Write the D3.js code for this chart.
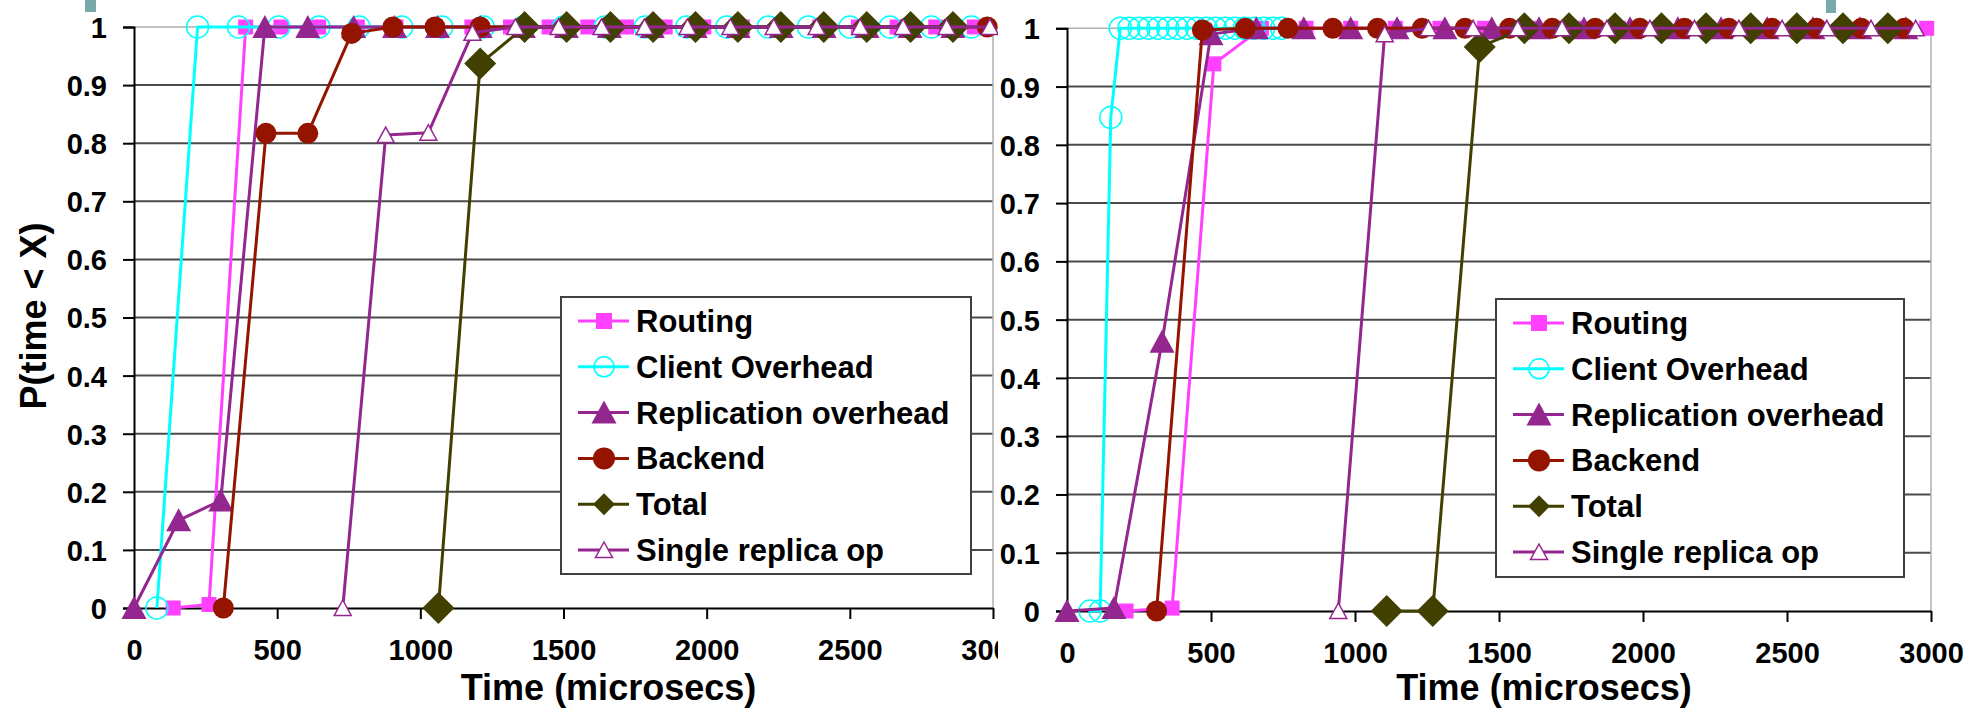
<!DOCTYPE html>
<html>
<head>
<meta charset="utf-8">
<script src="https://cdn.jsdelivr.net/npm/d3@7"></script>
<style>
  body { margin: 0; background: #fff; }
  svg { display: block; }
  text { font-family: "Liberation Sans", Arial, sans-serif; font-weight: bold; fill: #000; }
</style>
</head>
<body>
<svg id="svg1" width="1968" height="710"></svg>
<script>
// series names, in drawing order
var seriesNames = ["Routing", "Client Overhead", "Replication overhead", "Backend", "Total", "Single replica op"];
var xTicks = [0, 500, 1000, 1500, 2000, 2500, 3000];
var yTicks = [0, 0.1, 0.2, 0.3, 0.4, 0.5, 0.6, 0.7, 0.8, 0.9, 1];
var xTitle = "Time (microsecs)";
var yTitle = "P(time < X)";

// left chart, [time, probability]
var leftRouting = [[137,0],[262,0.006],[390,1],[513,1],[645,1],[780,1],[915,1],[1050,1],[1180,1],[1315,1],[1450,1],[1585,1],[1720,1],[1855,1],[1990,1],[2125,1],[2260,1],[2395,1],[2530,1],[2665,1],[2800,1],[2935,1]];
var leftClient = [[80,0],[222,1],[365,1],[505,1],[646,1],[786,1],[935,1],[1075,1],[1220,1],[1360,1],[1500,1],[1645,1],[1785,1],[1930,1],[2070,1],[2215,1],[2355,1],[2500,1],[2640,1],[2785,1],[2925,1]];
var leftReplication = [[0,0],[156,0.151],[303,0.185],[457,1],[607,1],[767,1],[910,1],[1060,1],[1209,1],[1360,1],[1510,1],[1660,1],[1810,1],[1960,1],[2110,1],[2260,1],[2410,1],[2560,1],[2710,1],[2860,1]];
var leftBackend = [[312,0],[461,0.817],[607,0.817],[760,0.989],[904,1],[1051,1],[1209,1],[1357,1],[1505,1],[1655,1],[1805,1],[1955,1],[2105,1],[2255,1],[2405,1],[2555,1],[2705,1],[2855,1],[2980,1]];
var leftTotal = [[1063,0],[1209,0.937],[1364,1],[1511,1],[1664,1],[1813,1],[1961,1],[2109,1],[2259,1],[2409,1],[2559,1],[2712,1],[2860,1]];
var leftSingle = [[729,0],[879,0.814],[1028,0.818],[1182,0.99],[1332,1],[1483,1],[1633,1],[1783,1],[1933,1],[2083,1],[2234,1],[2384,1],[2536,1],[2686,1],[2838,1],[2989,1]];

// right chart
var rightRouting = [[205,0],[365,0.005],[510,0.939],[675,1],[830,1],[985,1],[1140,1],[1295,1],[1450,1],[1605,1],[1760,1],[1915,1],[2070,1],[2225,1],[2380,1],[2535,1],[2690,1],[2845,1],[2985,1]];
var rightClient = [[80,0],[115,0],[152,0.847],[185,1],[215,1],[250,1],[283,1],[316,1],[350,1],[383,1],[416,1],[450,1],[483,1],[516,1],[550,1],[583,1],[616,1],[650,1],[683,1],[716,1],[745,1]];
var rightReplication = [[0,0],[163,0.005],[330,0.462],[500,0.99],[657,1],[822,1],[985,1],[1146,1],[1312,1],[1475,1],[1639,1],[1795,1],[1955,1],[2121,1],[2271,1],[2431,1],[2590,1],[2753,1],[2913,1]];
var rightBackend = [[311,0],[470,0.997],[619,1],[767,1],[923,1],[1078,1],[1233,1],[1382,1],[1536,1],[1685,1],[1834,1],[1989,1],[2144,1],[2298,1],[2448,1],[2603,1],[2758,1],[2907,1]];
var rightTotal = [[1110,0],[1270,0],[1433,0.968],[1588,1],[1743,1],[1903,1],[2064,1],[2219,1],[2374,1],[2534,1],[2694,1],[2850,1]];
var rightSingle = [[942,0],[1103,0.99],[1255,1],[1410,1],[1565,1],[1719,1],[1875,1],[2024,1],[2179,1],[2333,1],[2483,1],[2638,1],[2792,1],[2947,1]];

var styles = [
  {color: "#ff40ff", marker: "square"},
  {color: "#00ffff", marker: "ring"},
  {color: "#94268f", marker: "triangle"},
  {color: "#941400", marker: "dot"},
  {color: "#424000", marker: "diamond"},
  {color: "#94268f", marker: "hollowTri"}
];

function markerPath(type, legend) {
  var p = d3.path();
  if (type == "square") {
    var s = legend ? 8 : 7.5;
    p.rect(-s, -s, 2*s, 2*s);
  } else if (type == "ring") {
    p.arc(0, 0, legend ? 10 : 11, 0, 2*Math.PI);
  } else if (type == "triangle") {
    p.moveTo(0, -12); p.lineTo(12.5, 11); p.lineTo(-12.5, 11); p.closePath();
  } else if (type == "dot") {
    p.arc(0, 0, legend ? 11 : 10.5, 0, 2*Math.PI);
  } else if (type == "diamond") {
    var d = legend ? 11 : 16;
    p.moveTo(0, -d); p.lineTo(d, 0); p.lineTo(0, d); p.lineTo(-d, 0); p.closePath();
  } else {
    p.moveTo(0, -8); p.lineTo(8.5, 7.5); p.lineTo(-8.5, 7.5); p.closePath();
  }
  return p.toString();
}

function styleMarker(sel, st) {
  if (st.marker == "ring") {
    sel.attr("fill", "none").attr("stroke", st.color).attr("stroke-width", 1.5);
  } else if (st.marker == "hollowTri") {
    sel.attr("fill", "#fff").attr("stroke", st.color).attr("stroke-width", 1.5);
  } else {
    sel.attr("fill", st.color).attr("stroke", "none");
  }
}

var svg1 = d3.select("#svg1");

function drawChart(cfg) {
  var x = d3.scaleLinear().domain([0, 3000]).range([cfg.left, cfg.right]);
  var y = d3.scaleLinear().domain([0, 1]).range([cfg.bottom, cfg.top]);
  var g = svg1.append("g");
  if (cfg.clip) {
    g.attr("clip-path", "url(#" + cfg.clip + ")");
  }

  // gridlines
  g.selectAll(".grid")
    .data(yTicks.filter(function(d) { return d > 0 && d < 1; }))
    .enter().append("line")
    .attr("x1", cfg.left).attr("x2", cfg.right)
    .attr("y1", function(d) { return y(d); })
    .attr("y2", function(d) { return y(d); })
    .attr("stroke", "#4a4a4a").attr("stroke-width", 2);
  // plot border top & right
  g.append("path")
    .attr("d", "M" + cfg.left + "," + y(1) + "H" + cfg.right + "V" + cfg.bottom)
    .attr("fill", "none").attr("stroke", "#b0b0b0").attr("stroke-width", 1.5);

  // y axis
  var yAxis = d3.axisLeft(y).tickValues(yTicks).tickSize(11).tickPadding(16)
    .tickFormat(function(d) { return d == 0 || d == 1 ? d : d3.format(".1f")(d); });
  var ya = g.append("g").attr("transform", "translate(" + cfg.left + ",0)").call(yAxis);
  ya.select(".domain").attr("stroke", "#000").attr("stroke-width", 2);
  ya.selectAll(".tick line").attr("stroke", "#000").attr("stroke-width", 2);
  ya.selectAll("text").attr("font-size", 29).attr("font-family", "Liberation Sans, Arial")
    .attr("font-weight", "bold").attr("fill", "#000").attr("dy", "0.36em");

  // x axis
  var xAxis = d3.axisBottom(x).tickValues(xTicks).tickSize(11).tickSizeOuter(0).tickPadding(20)
    .tickFormat(d3.format("d"));
  var xa = g.append("g").attr("transform", "translate(0," + cfg.bottom + ")").call(xAxis);
  xa.select(".domain").attr("stroke", "#000").attr("stroke-width", 2);
  xa.selectAll(".tick line").attr("stroke", "#000").attr("stroke-width", 2);
  xa.selectAll("text").attr("font-size", 29).attr("font-family", "Liberation Sans, Arial")
    .attr("font-weight", "bold").attr("fill", "#000");

  // series
  var line = d3.line().x(function(d) { return x(d[0]); }).y(function(d) { return y(d[1]); });
  cfg.data.forEach(function(ser, i) {
    var st = styles[i];
    g.append("path").datum(ser)
      .attr("d", line)
      .attr("fill", "none")
      .attr("stroke", st.color)
      .attr("stroke-width", 3)
      .attr("stroke-linejoin", "round");
    var m = g.selectAll(".m" + i).data(ser).enter().append("path")
      .attr("class", "m" + i)
      .attr("d", markerPath(st.marker, false))
      .attr("transform", function(d) { return "translate(" + x(d[0]) + "," + y(d[1]) + ")"; });
    styleMarker(m, st);
  });

  // legend
  var lg = g.append("g").attr("transform", "translate(" + cfg.legX + "," + cfg.legY + ")");
  lg.append("rect").attr("width", cfg.legW).attr("height", cfg.legH)
    .attr("fill", "#fff").attr("stroke", "#404040").attr("stroke-width", 2);
  seriesNames.forEach(function(name, i) {
    var st = styles[i];
    var cy = 24 + i * 45.8;
    lg.append("line").attr("x1", 17).attr("x2", 68).attr("y1", cy).attr("y2", cy)
      .attr("stroke", st.color).attr("stroke-width", 3);
    var mk = lg.append("path").attr("d", markerPath(st.marker, true))
      .attr("transform", "translate(43," + cy + ")");
    styleMarker(mk, st);
    lg.append("text").attr("x", 75).attr("y", cy + 11).attr("font-size", 31).text(name);
  });

  // x title
  g.append("text")
    .attr("x", (cfg.left + cfg.right) / 2 + 45).attr("y", 700)
    .attr("text-anchor", "middle").attr("font-size", 36).text(xTitle);
  return g;
}

// clip for the left picture, the right one is pasted over it
svg1.append("defs").append("clipPath").attr("id", "clipL")
  .append("rect").attr("x", 0).attr("y", 0).attr("width", 998).attr("height", 710);

drawChart({left: 134, right: 993, top: 27, bottom: 608, data: [leftRouting, leftClient, leftReplication, leftBackend, leftTotal, leftSingle],
  legX: 561, legY: 297, legW: 410, legH: 277, clip: "clipL"});

// y title only on the left chart
svg1.append("text")
  .attr("transform", "translate(46,316) rotate(-90)")
  .attr("text-anchor", "middle").attr("font-size", 36).text(yTitle);

drawChart({left: 1067, right: 1931, top: 28.3, bottom: 611, data: [rightRouting, rightClient, rightReplication, rightBackend, rightTotal, rightSingle],
  legX: 1496, legY: 299, legW: 408, legH: 278});

// slide decorations
svg1.append("rect").attr("x", 85).attr("y", 0).attr("width", 11).attr("height", 12).attr("fill", "#7aa9a9");
svg1.append("rect").attr("x", 1826).attr("y", 0).attr("width", 10).attr("height", 13).attr("fill", "#7aa9a9");
</script>
</body>
</html>
